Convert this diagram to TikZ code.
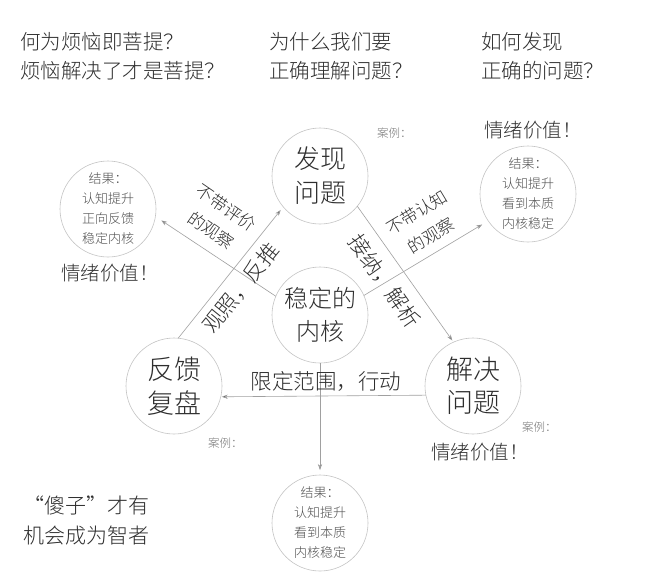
\documentclass[tikz,border=0pt]{standalone}
\usepackage{fontspec}
\newfontfamily\cjk{Noto Sans CJK SC Light}
\usetikzlibrary{arrows.meta}
\definecolor{ink}{HTML}{2E2E2E}
\definecolor{soft}{HTML}{505050}
\definecolor{faint}{HTML}{777777}
\definecolor{ringc}{HTML}{C4C4C4}
\definecolor{linec}{HTML}{A0A0A0}
\begin{document}
\begin{tikzpicture}[x=1pt,y=-1pt,
  every node/.style={inner sep=0pt, outer sep=0pt},
  ring/.style={circle, draw=ringc, line width=0.6pt, minimum size=96pt, align=center},
  mainring/.style={ring, text=ink, font=\cjk\fontsize{26}{34}\selectfont},
  resring/.style={ring, text=soft, font=\cjk\fontsize{13}{20}\selectfont},
  question/.style={anchor=west, align=left, text=ink, font=\cjk\fontsize{20.5}{29}\selectfont},
  edgelabel/.style={align=center, text=ink, font=\cjk\fontsize{17}{27}\selectfont},
  biglabel/.style={align=center, text=ink, font=\cjk\fontsize{21.5}{27}\selectfont},
  emo/.style={anchor=west, text=ink, font=\cjk\fontsize{19.5}{24}\selectfont},
  case/.style={anchor=west, text=faint, font=\cjk\fontsize{11.5}{14}\selectfont},
  conn/.style={draw=linec, line width=0.6pt, -{Stealth[length=6pt,width=4.2pt,fill=ink]}}
]
\useasboundingbox (0,0) rectangle (660,587);
\fill[white] (0,0) rectangle (660,587);

% top questions
\node[question] (q1) at (20,56) {何为烦恼即菩提？\\烦恼解决了才是菩提？};
\node[question] (q2) at (269,56) {为什么我们要\\正确理解问题？};
\node[question] (q3) at (481,56) {如何发现\\正确的问题？};

% main circles
\node[mainring] (F) at (320,176) {发现\\问题};
\node[mainring, font=\cjk\fontsize{24}{33}\selectfont] (K) at (320,315) {稳定的\\内核};
\node[mainring, font=\cjk\fontsize{27}{34}\selectfont] (B) at (174,386) {反馈\\复盘};
\node[mainring, font=\cjk\fontsize{27}{33}\selectfont] (S) at (473,386) {解决\\问题};

% result circles
\node[resring] (R1) at (108,209) {结果：\\认知提升\\正向反馈\\稳定内核};
\node[resring] (R2) at (528,194) {结果：\\认知提升\\看到本质\\内核稳定};
\node[resring] (R3) at (320,523) {结果：\\认知提升\\看到本质\\内核稳定};

% connectors
\draw[conn, shorten >=7pt] (K.157) -- (R1.-9);
\draw[conn, shorten >=7pt] (K.24) -- (R2.214);
\draw[conn, shorten >=2pt] (F.-39) -- (S.114);
\draw[conn, shorten >=4pt] (B.85) -- (F.220);
\draw[conn, shorten >=1pt] (S.191) -- (B.-13.5);
\draw[conn, shorten >=5pt] (K.south) -- (R3.north);

% connector labels
\node[edgelabel, rotate=-34.5] (l1) at (219,219) {不带评价\\的观察};
\node[edgelabel, rotate=31] (l2) at (424,224) {不带认知\\的观察};
\node[biglabel, rotate=51] (l3) at (241,288) {观照，反推};
\node[biglabel, rotate=-55] (l4) at (385,281) {接纳，解析};
\node[biglabel] (l5) at (326,381) {限定范围，行动};

% emotional value
\node[emo] (e1) at (61,273) {情绪价值！};
\node[emo] (e2) at (484,130) {情绪价值！};
\node[emo] (e3) at (431,452) {情绪价值！};

% cases
\node[case] (c1) at (377,133) {案例：};
\node[case] (c2) at (208,443) {案例：};
\node[case] (c3) at (522,427) {案例：};

% bottom left remark
\node[question, font=\cjk\fontsize{21}{30}\selectfont] (fool) at (23,520) {“傻子”才有\\机会成为智者};
\end{tikzpicture}
\end{document}
